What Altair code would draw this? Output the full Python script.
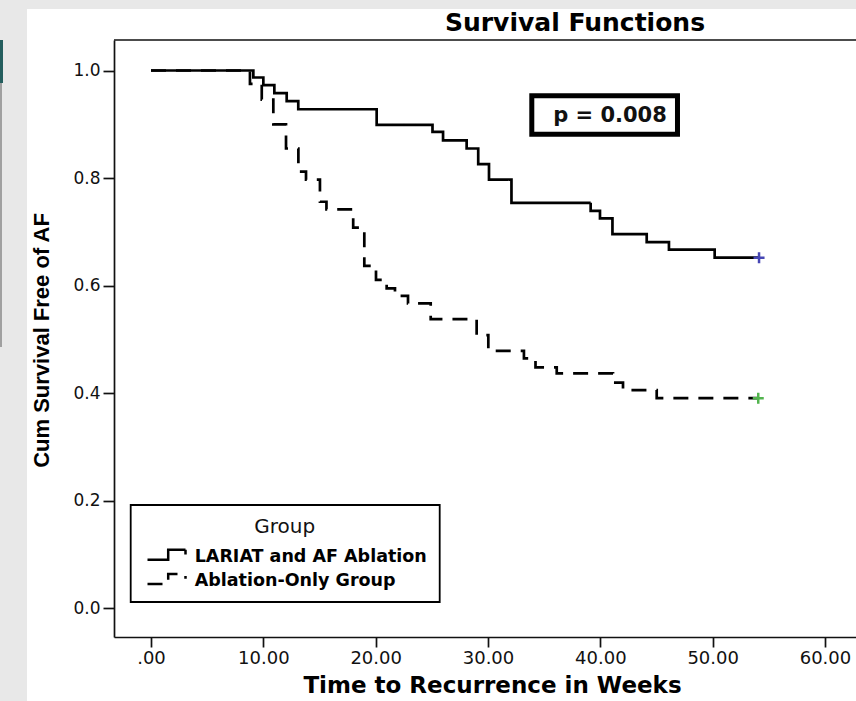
import altair as alt
import pandas as pd

# ---- values ----
groups = ["LARIAT and AF Ablation", "Ablation-Only Group"]

lariat_weeks = [0, 9.11, 10.0, 10.98, 12.08, 13.11, 20.09, 25.06, 26.0, 28.1, 29.13,
                30.09, 32.09, 39.14, 39.97, 41.08, 44.13, 46.11, 50.18, 54.13]
lariat_surv = [1.0, 0.987, 0.973, 0.958, 0.943, 0.928, 0.899, 0.886, 0.870, 0.855, 0.826,
               0.797, 0.754, 0.739, 0.725, 0.696, 0.681, 0.667, 0.652, 0.652]

abl_weeks = [0, 8.81, 9.86, 10.89, 12.02, 13.12, 13.8, 15.04, 15.62, 18.0, 18.99, 20.03,
             20.98, 21.72, 22.88, 24.9, 28.99, 30.03, 33.2, 34.23, 36.12, 41.13, 42.02,
             45.02, 54.06]
abl_surv = [1.0, 0.975, 0.946, 0.900, 0.855, 0.812, 0.797, 0.756, 0.742, 0.708, 0.637, 0.611,
            0.595, 0.581, 0.567, 0.538, 0.508, 0.479, 0.465, 0.448, 0.437, 0.420, 0.406,
            0.391, 0.391]

censor_weeks = [54.13, 54.06]
censor_surv = [0.652, 0.391]

x_ticks = [0, 10, 20, 30, 40, 50, 60]
y_ticks = [0.0, 0.2, 0.4, 0.6, 0.8, 1.0]
p_label = "p = 0.008"

# ---- tables ----
km = pd.DataFrame({
    "week": lariat_weeks + abl_weeks,
    "surv": lariat_surv + abl_surv,
    "group": [groups[0]] * len(lariat_weeks) + [groups[1]] * len(abl_weeks),
})
cens = pd.DataFrame({"week": censor_weeks, "surv": censor_surv, "censored": groups})
pbox = pd.DataFrame({"x": [33.90], "x2": [46.87], "y": [0.953], "y2": [0.8816]})
ptxt = pd.DataFrame({"x": [40.86], "y": [0.9048], "label": [p_label]})
one = pd.DataFrame({"a": [0]})

W, H = 742, 597
FONT = "DejaVu Sans"
ARIAL = "Liberation Sans"

xscale = alt.Scale(domain=[-3.294, 62.762], nice=False, zero=False)
yscale = alt.Scale(domain=[-0.053, 1.0567], nice=False, zero=False)

xaxis = alt.Axis(
    values=x_ticks,
    labelExpr="datum.value == 0 ? '.00' : format(datum.value, '.2f')",
    grid=False, tickSize=10, tickWidth=1.7, tickColor="#111", domainColor="#111",
    domainWidth=1.7, labelFont=FONT, labelFontSize=18, labelColor="#111", labelPadding=2,
    title="Time to Recurrence in Weeks", titleFont=FONT, titleFontSize=23,
    titleFontWeight="bold", titleColor="black", titleX=378, titleY=55,
    titleAlign="center", titleBaseline="alphabetic", zindex=1,
)
yaxis = alt.Axis(
    values=y_ticks, format=".1f",
    grid=False, tickSize=11, tickWidth=1.7, tickColor="#111", domainColor="#111",
    domainWidth=1.7, labelFont=FONT, labelFontSize=17, labelColor="#111", labelPadding=3,
    title="Cum Survival Free of AF", titleFont=ARIAL, titleFontSize=22,
    titleFontWeight="bold", titleColor="black", titleAngle=270, titleX=-66, titleY=300,
    titleAlign="center", titleBaseline="alphabetic", zindex=1,
)


def X(f):
    return alt.X(f, type="quantitative", scale=xscale, axis=xaxis)


def Y(f):
    return alt.Y(f, type="quantitative", scale=yscale, axis=yaxis)


# ---- decorations (page background) ----
bg_white = alt.Chart(one).mark_rect(color="white").encode(
    x=alt.value(-87), x2=alt.value(W), y=alt.value(-31), y2=alt.value(H + 64))
teal = alt.Chart(one).mark_rect(color="#245e5e").encode(
    x=alt.value(-114), x2=alt.value(-111), y=alt.value(0), y2=alt.value(43))
grayline = alt.Chart(one).mark_rect(color="#a0a0a0").encode(
    x=alt.value(-114), x2=alt.value(-112), y=alt.value(43), y2=alt.value(307))
top_rule = alt.Chart(one).mark_rule(color="#111", strokeWidth=1.7).encode(
    x=alt.value(0), x2=alt.value(W), y=alt.value(0))

title = alt.Chart(one).mark_text(
    text="Survival Functions", font=FONT, fontSize=25, fontWeight="bold",
    color="black", align="center", baseline="alphabetic",
).encode(x=alt.value(461), y=alt.value(-9))

# ---- p value box ----
p_rect = alt.Chart(pbox).mark_rect(fill="white", stroke="black", strokeWidth=5).encode(
    x=X("x"), x2="x2", y=Y("y"), y2="y2")
p_text = alt.Chart(ptxt).mark_text(
    font=FONT, fontSize=21, fontWeight="bold", color="#111",
    align="center", baseline="alphabetic",
).encode(x=X("x"), y=Y("y"), text="label:N")

# ---- survival curves ----
step_path = "M-0.67,0.33H1.4V-0.67H3.13V-0.2"
lines = alt.Chart(km).mark_line(interpolate="step-after", strokeWidth=2.7, color="black").encode(
    x=X("week"), y=Y("surv"),
    strokeDash=alt.StrokeDash(
        "group:N",
        scale=alt.Scale(domain=groups, range=[[1, 0], [15, 10]]),
        legend=alt.Legend(
            title="Group", orient="none", legendX=16.7, legendY=465, direction="vertical",
            titleAnchor="middle", titleFont=FONT, titleFontSize=20, titleFontWeight="normal",
            titleColor="#111", titlePadding=8,
            labelFont=FONT, labelFontSize=17.5, labelFontWeight="bold", labelColor="black",
            labelOffset=29, labelLimit=400,
            symbolType=step_path, symbolSize=400, symbolStrokeWidth=2.5,
            symbolStrokeColor="black", symbolFillColor="transparent",
            padding=12, rowPadding=3.3, strokeColor="black", fillColor="white", zindex=1,
        ),
    ),
)

censor = alt.Chart(cens).mark_point(
    shape="M-1,0H1M0,-1V1", size=121, filled=False, strokeWidth=2.5, opacity=1,
).encode(
    x=X("week"), y=Y("surv"),
    color=alt.Color("censored:N",
                    scale=alt.Scale(domain=groups, range=["#4646b4", "#52b44e"]),
                    legend=None),
)

chart = alt.layer(
    bg_white, teal, grayline, top_rule, p_rect, p_text, lines, censor, title
).resolve_scale(
    color="independent", strokeDash="independent"
).properties(
    width=W, height=H,
    padding={"left": 114, "top": 40, "right": 0, "bottom": 64},
    autosize=alt.AutoSizeParams(type="none"),
    background="#e8e8e8",
).configure_view(strokeWidth=0).configure_legend(strokeWidth=1.8)

chart.save("out.html", embed_options={"renderer": "svg", "actions": False})
